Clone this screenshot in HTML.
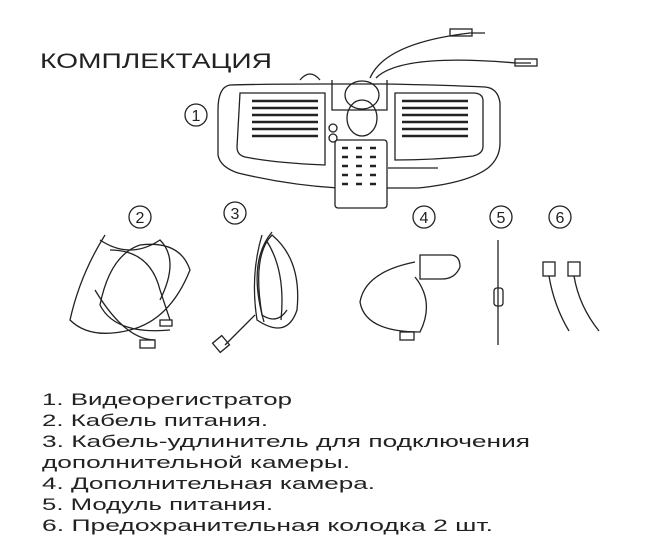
<!DOCTYPE html>
<html><head><meta charset="utf-8"><style>
body{margin:0;background:#fff;width:650px;height:560px;overflow:hidden}
svg{position:absolute;left:0;top:0}
.t{font-family:"Liberation Sans",sans-serif;fill:#222}
</style></head><body>
<svg width="650" height="560" viewBox="0 0 650 560">
<g fill="none" stroke="#222" stroke-width="1.3">
<text class="t" x="40" y="68" font-size="21" stroke="none" textLength="232" lengthAdjust="spacingAndGlyphs">КОМПЛЕКТАЦИЯ</text>
<!-- device -->
<path d="M300 80 q10-12 20 0"/>
<path d="M230 85 q-12 2-12 25 v45 q2 12 20 18 q50 12 100 15 h80 q50-5 70-20 q12-10 12-25 v-40 q-2-15-15-16 q-40-2-100-3 h-60 q-60 0-95 1z"/>
<path d="M240 93 h85 v72 q-50-2-80-8 q-8-2-8-10z"/>
<path d="M395 93 h78 q10 0 10 8 v45 q0 8-10 10 q-40 4-78 4z"/>
<g stroke-width="2.5">
<line x1="252" y1="101" x2="318" y2="101"/><line x1="252" y1="108" x2="318" y2="108"/><line x1="252" y1="115" x2="318" y2="115"/><line x1="252" y1="122" x2="318" y2="122"/><line x1="252" y1="129" x2="318" y2="129"/><line x1="252" y1="136" x2="318" y2="136"/>
<line x1="402" y1="101" x2="468" y2="101"/><line x1="402" y1="108" x2="468" y2="108"/><line x1="402" y1="115" x2="468" y2="115"/><line x1="402" y1="122" x2="468" y2="122"/><line x1="402" y1="129" x2="468" y2="129"/><line x1="402" y1="136" x2="468" y2="136"/>
</g>
<path d="M332 80 v30 h55 v-30"/>
<ellipse cx="362" cy="95" rx="17" ry="14"/>
<ellipse cx="362" cy="118" rx="15" ry="18"/>
<circle cx="333" cy="128" r="4"/><circle cx="333" cy="138" r="4"/>
<rect x="335" y="140" width="52" height="68" rx="3" fill="#fff"/>
<g stroke-width="2.5">
<line x1="342" y1="148" x2="348" y2="148"/><line x1="356" y1="148" x2="362" y2="148"/><line x1="370" y1="148" x2="376" y2="148"/>
<line x1="342" y1="157" x2="348" y2="157"/><line x1="356" y1="157" x2="362" y2="157"/><line x1="370" y1="157" x2="376" y2="157"/>
<line x1="342" y1="166" x2="348" y2="166"/><line x1="356" y1="166" x2="362" y2="166"/><line x1="370" y1="166" x2="376" y2="166"/>
<line x1="342" y1="175" x2="348" y2="175"/><line x1="356" y1="175" x2="362" y2="175"/><line x1="370" y1="175" x2="376" y2="175"/>
<line x1="342" y1="184" x2="348" y2="184"/><line x1="356" y1="184" x2="362" y2="184"/><line x1="370" y1="184" x2="376" y2="184"/>
</g>
<path d="M388 168 h50"/>
<path d="M370 78 q15-35 100-45 h15"/><rect x="450" y="29" width="22" height="7"/>
<path d="M376 78 q25-25 140-15 h15"/><rect x="515" y="59" width="22" height="7"/>
<!-- numbers -->
<circle cx="196" cy="115" r="11"/><circle cx="140" cy="217" r="11"/><circle cx="235" cy="213" r="11"/><circle cx="424" cy="217" r="11"/><circle cx="501" cy="217" r="11"/><circle cx="560" cy="217" r="11"/>
<!-- cable 2 -->
<path d="M105 235 q-25 40-35 85 q20 20 60 10 q40-10 60-60 q-10-30-50-25 q-30 10-40 60 q15 30 70 25"/>
<path d="M110 250 q40 0 50 40 l10 30"/><path d="M95 290 q30 50 60 50"/>
<path d="M100 240 q30 20 60 0 q20 20 0 60"/>
<rect x="140" y="340" width="15" height="8"/><rect x="160" y="320" width="12" height="6"/>
<!-- cable 3 -->
<path d="M262 235 q-12 40 -5 85 q30 20 40-10 q5-50-25-75 q-20 20-10 80 q15 10 25-5"/>
<path d="M266 240 q20 30 15 80"/><path d="M272 232 q-25 30-8 90"/><path d="M255 315 l-30 30"/><rect x="215" y="338" width="12" height="12" transform="rotate(-40 221 344)"/>
<!-- camera 4 -->
<path d="M420 255 h30 q10 0 10 12 q-5 12-18 12 h-22z"/>
<path d="M415 262 q-50 10-55 40 q5 30 60 30 q15-30-5-55"/><rect x="400" y="332" width="14" height="8"/>
<!-- module 5 -->
<line x1="498" y1="240" x2="498" y2="345"/><rect x="494" y="288" width="9" height="18" rx="3"/>
<!-- fuses 6 -->
<rect x="543" y="262" width="12" height="14"/><rect x="568" y="262" width="12" height="14"/>
<path d="M549 276 q5 30 20 55"/><path d="M574 276 q5 30 25 55"/>
</g>
<g class="t" font-size="16" text-anchor="middle">
<text x="196" y="121">1</text><text x="140" y="223">2</text><text x="235" y="219">3</text><text x="424" y="223">4</text><text x="501" y="223">5</text><text x="560" y="223">6</text>
</g>
<g class="t" font-size="17" lengthAdjust="spacingAndGlyphs">
<text x="42" y="405" textLength="250" lengthAdjust="spacingAndGlyphs">1. Видеорегистратор</text>
<text x="42" y="426" textLength="226" lengthAdjust="spacingAndGlyphs">2. Кабель питания.</text>
<text x="42" y="447" textLength="488" lengthAdjust="spacingAndGlyphs">3. Кабель-удлинитель для подключения</text>
<text x="42" y="468" textLength="308" lengthAdjust="spacingAndGlyphs">дополнительной камеры.</text>
<text x="42" y="489" textLength="333" lengthAdjust="spacingAndGlyphs">4. Дополнительная камера.</text>
<text x="42" y="510" textLength="231" lengthAdjust="spacingAndGlyphs">5. Модуль питания.</text>
<text x="42" y="531" textLength="451" lengthAdjust="spacingAndGlyphs">6. Предохранительная колодка 2 шт.</text>
</g>
</svg>
</body></html>
